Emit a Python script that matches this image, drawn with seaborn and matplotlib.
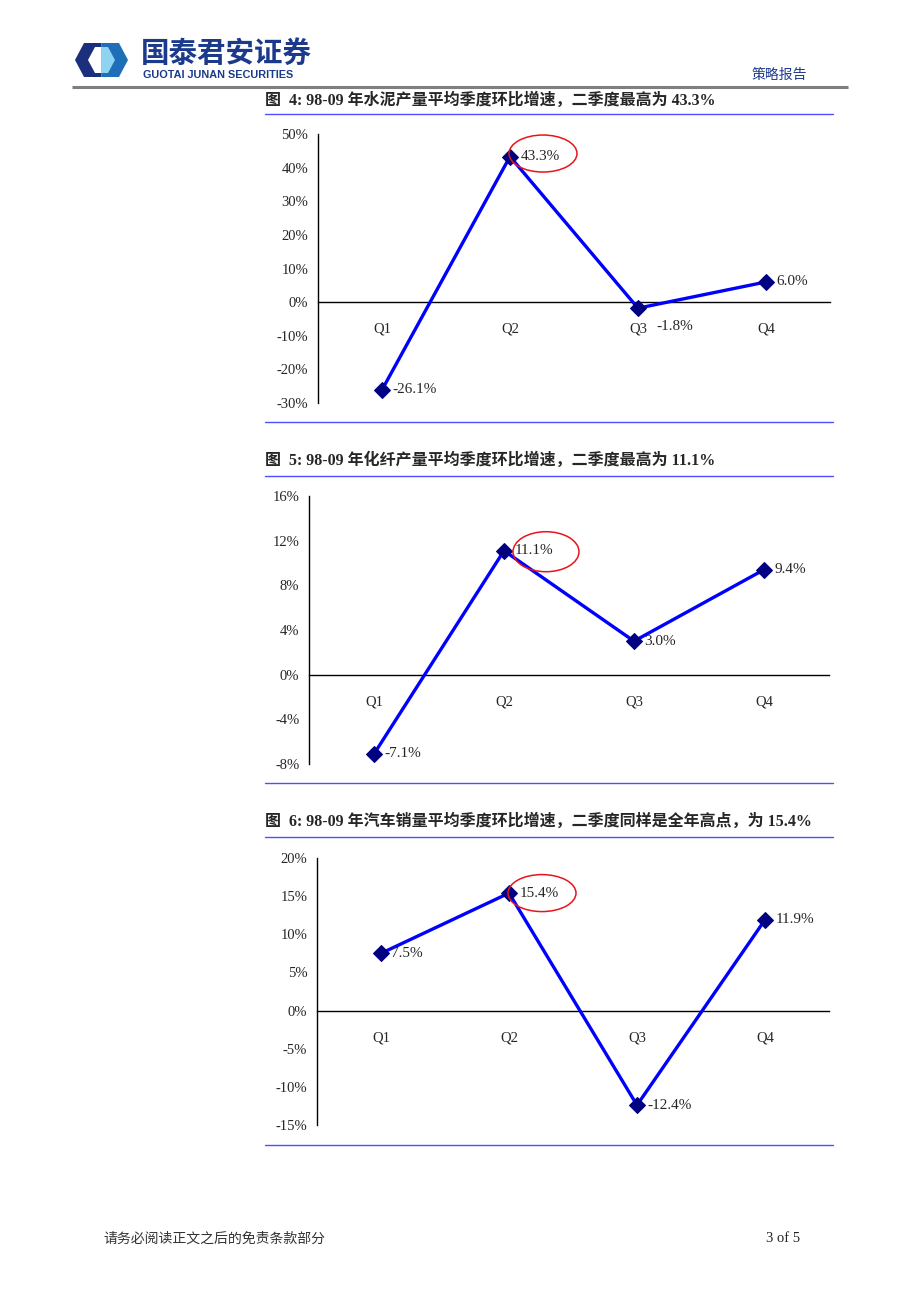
import numpy as np
import pandas as pd
import matplotlib
matplotlib.use("Agg")
import matplotlib.pyplot as plt
from matplotlib.patches import Ellipse, Polygon
from matplotlib.transforms import IdentityTransform
import seaborn as sns

# ---------------- data ----------------
quarters = ["Q1", "Q2", "Q3", "Q4"]
cement = [-26.1, 43.3, -1.8, 6.0]
fiber = [-7.1, 11.1, 3.0, 9.4]
autos = [7.5, 15.4, -12.4, 11.9]

cement_ticks = [-30, -20, -10, 0, 10, 20, 30, 40, 50]
fiber_ticks = [-8, -4, 0, 4, 8, 12, 16]
autos_ticks = [-15, -10, -5, 0, 5, 10, 15, 20]

titles = [
    "图  4: 98-09 年水泥产量平均季度环比增速，二季度最高为 43.3%",
    "图  5: 98-09 年化纤产量平均季度环比增速，二季度最高为 11.1%",
    "图  6: 98-09 年汽车销量平均季度环比增速，二季度同样是全年高点，为 15.4%",
]

# ---------------- style ----------------
sns.set_theme(style="white")
CJK = ["Liberation Serif", "Noto Sans CJK SC", "DejaVu Sans"]
plt.rcParams["font.family"] = CJK
plt.rcParams["axes.unicode_minus"] = False

W, H = 920, 1302
fig = plt.figure(figsize=(W / 100, H / 100), dpi=100)
fig.patch.set_facecolor("white")

# background layer in pixel coordinates
bg = fig.add_axes([0, 0, 1, 1], zorder=0)
bg.set_xlim(0, W)
bg.set_ylim(H, 0)
bg.axis("off")

# ---- header ----
# logo
bg.add_patch(Polygon([(75, 60), (84, 43), (101.5, 43), (101.5, 77), (84, 77)],
                     closed=True, fc="#1b2f7c", ec="none"))
bg.add_patch(Polygon([(101.5, 43), (119, 43), (128, 60), (119, 77), (101.5, 77)],
                     closed=True, fc="#1f6fb8", ec="none"))
bg.add_patch(Polygon([(88, 60), (95, 47), (101.5, 47), (101.5, 73), (95, 73)],
                     closed=True, fc="white", ec="none"))
bg.add_patch(Polygon([(101.5, 47), (108, 47), (115, 60), (108, 73), (101.5, 73)],
                     closed=True, fc="#8fd3f2", ec="none"))
bg.text(141, 54, "国泰君安证券", fontsize=20.5, fontweight="bold", color="#1b3a8c",
        family=["Noto Sans CJK SC"], va="center", ha="left")
bg.text(143, 74.5, "GUOTAI JUNAN SECURITIES", fontsize=7.8, fontweight="bold",
        color="#1b3a8c", family=["Liberation Sans", "DejaVu Sans"], va="center", ha="left")
bg.text(752, 75, "策略报告", fontsize=10, color="#1b3a8c",
        family=["Noto Sans CJK SC"], va="center", ha="left")
bg.plot([72, 848], [87, 87], color="#7f7f7f", lw=2.2, solid_capstyle="butt")

# ---- footer ----
bg.text(103, 1239, "请务必阅读正文之后的免责条款部分", fontsize=10, color="#333333",
        family=["Noto Sans CJK SC"], va="center", ha="left")
bg.text(800, 1239, "3 of 5", fontsize=10.5, color="#222222",
        family=["Liberation Serif"], va="center", ha="right")

# ---------------- charts ----------------
charts = [
    dict(data=cement, ticks=cement_ticks, title=titles[0],
         box=(318, 830, 134, 403), title_y=101, line_top=114, line_bot=422,
         ellipse=(33, -3, 68, 37)),
    dict(data=fiber, ticks=fiber_ticks, title=titles[1],
         box=(309, 829, 496, 764), title_y=461, line_top=476, line_bot=783,
         ellipse=(42, 1, 66, 40)),
    dict(data=autos, ticks=autos_ticks, title=titles[2],
         box=(317, 829, 858, 1125), title_y=822, line_top=837, line_bot=1145,
         ellipse=(33, 0, 68, 37)),
]

label_font = ["Liberation Serif", "DejaVu Sans"]

for c in charts:
    l, r, t, b = c["box"]
    ax = fig.add_axes([l / W, 1 - b / H, (r - l) / W, (b - t) / H], zorder=2)
    ax.patch.set_alpha(0)

    df = pd.DataFrame({"q": quarters, "v": c["data"]})
    sns.lineplot(data=df, x="q", y="v", ax=ax, color="#0000ff", lw=2.4,
                 marker="D", markersize=8.5, markerfacecolor="#000080",
                 markeredgecolor="#000080", sort=False, zorder=3)

    ax.set_xlim(-0.5, 3.5)
    ax.set_ylim(min(c["ticks"]), max(c["ticks"]))
    ax.set_xlabel("")
    ax.set_ylabel("")

    for s in ["top", "right"]:
        ax.spines[s].set_visible(False)
    ax.spines["left"].set_color("black")
    ax.spines["left"].set_linewidth(1.0)
    ax.spines["bottom"].set_position(("data", 0))
    ax.spines["bottom"].set_color("black")
    ax.spines["bottom"].set_linewidth(1.0)

    ax.set_yticks(c["ticks"])
    ax.set_yticklabels([f"{v}%" for v in c["ticks"]], family=label_font, fontsize=10.5)
    ax.tick_params(axis="y", direction="out", length=4, width=1, color="black", pad=3)

    ax.set_xticks([0.5, 1.5, 2.5, 3.5])
    ax.set_xticklabels([])
    ax.tick_params(axis="x", which="major", direction="in", length=5, width=1, color="black")
    ax.set_xticks([0, 1, 2, 3], minor=True)
    ax.set_xticklabels(quarters, minor=True, family=label_font, fontsize=10.5)
    ax.tick_params(axis="x", which="minor", length=0, pad=15)
    ax.grid(False)

    # data labels
    for i, v in enumerate(c["data"]):
        dx, dy = 7.5, 0
        if c is charts[0] and i == 2:
            dx, dy = 13.5, -13
        ax.annotate(f"{v:.1f}%", (i, v), xytext=(dx, dy), textcoords="offset points",
                    ha="left", va="center", fontsize=11, family=label_font, zorder=4)

    # red ellipse around the Q2 label
    ex, ey, ew, eh = c["ellipse"]
    px, py = ax.transData.transform((1, c["data"][1]))
    ell = Ellipse((px + ex, py - ey), ew, eh, transform=IdentityTransform(),
                  fill=False, ec="#e8141b", lw=1.1, zorder=5)
    fig.add_artist(ell)

    # title and rules
    bg.text(265, c["title_y"], c["title"], fontsize=11.5, fontweight="bold",
            family=["Liberation Serif", "Noto Sans CJK SC"], va="center", ha="left")
    bg.plot([265, 833], [c["line_top"], c["line_top"]], color="#4f4fff", lw=1.0)
    bg.plot([265, 833], [c["line_bot"], c["line_bot"]], color="#4f4fff", lw=1.0)

fig.savefig("out.png", dpi=100, facecolor="white")
